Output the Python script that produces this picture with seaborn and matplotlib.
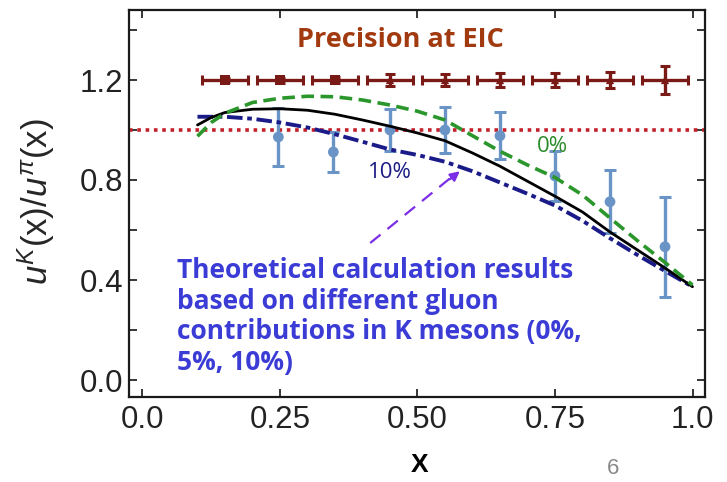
import numpy as np
import pandas as pd
import matplotlib

matplotlib.use('Agg')
import matplotlib.pyplot as plt
import seaborn as sns

# theory curves
curve_x = [0.10, 0.125, 0.15, 0.20, 0.25, 0.30, 0.35, 0.40, 0.45, 0.50,
           0.55, 0.60, 0.65, 0.70, 0.75, 0.80, 0.85, 0.90, 0.95, 1.00]
gluon_5 = [1.02, 1.05, 1.07, 1.083, 1.085, 1.079, 1.063, 1.04, 1.015, 0.988,
           0.957, 0.908, 0.855, 0.795, 0.735, 0.672, 0.592, 0.52, 0.448, 0.373]
gluon_0 = [0.975, 1.03, 1.067, 1.11, 1.127, 1.135, 1.133, 1.12, 1.10, 1.075,
           1.04, 0.977, 0.915, 0.86, 0.81, 0.74, 0.648, 0.557, 0.47, 0.38]
gluon_10 = [1.053, 1.053, 1.053, 1.045, 1.03, 1.01, 0.983, 0.953, 0.922, 0.90,
            0.873, 0.835, 0.79, 0.745, 0.698, 0.637, 0.567, 0.50, 0.436, 0.373]

# lattice / data points
data_x = [0.247, 0.347, 0.45, 0.55, 0.65, 0.75, 0.85, 0.95]
data_y = [0.972, 0.912, 1.0, 1.0, 0.977, 0.816, 0.713, 0.533]
data_err = [0.116, 0.08, 0.085, 0.092, 0.095, 0.10, 0.125, 0.20]

# projected EIC precision
eic_x = [0.15, 0.25, 0.35, 0.45, 0.55, 0.65, 0.75, 0.85, 0.95]
eic_y = [1.2] * 9
eic_xerr = [0.042] * 9
eic_yerr = [0.008, 0.010, 0.012, 0.022, 0.024, 0.026, 0.028, 0.032, 0.055]

sns.set_theme(style='ticks')
plt.rcParams['font.family'] = ['Liberation Sans', 'DejaVu Sans']
plt.rcParams['mathtext.fontset'] = 'custom'
plt.rcParams['mathtext.it'] = 'Liberation Sans:italic'
plt.rcParams['mathtext.rm'] = 'Liberation Sans'

fig = plt.figure(figsize=(7.27, 4.82), dpi=100)
ax = fig.add_axes([129 / 727, 1 - 397 / 482, 576 / 727, 387 / 482])

curves = pd.DataFrame({'x': curve_x, '0%': gluon_0, '5%': gluon_5, '10%': gluon_10})

ax.axhline(1.0, color='#c3202b', ls=(0, (1, 1.3)), lw=2.6, zorder=1)

sns.lineplot(data=curves, x='x', y='10%', ax=ax, color='#1a1a88', lw=2.8,
             ls=(0, (4, 1.2, 1.2, 1.2)), zorder=3)
sns.lineplot(data=curves, x='x', y='5%', ax=ax, color='black', lw=2.0, zorder=4)
sns.lineplot(data=curves, x='x', y='0%', ax=ax, color='#2b962b', lw=2.6,
             ls=(0, (3.5, 1.8)), zorder=5)

# data points
ax.errorbar(data_x, data_y, yerr=data_err, fmt='none', ecolor='#6a94c6',
            elinewidth=2.4, capsize=4, capthick=2.2, zorder=2)
sns.scatterplot(x=data_x, y=data_y, ax=ax, color='#6a94c6', s=60,
                edgecolor='none', zorder=2)

# EIC precision points
eic_col = '#7a1a16'
ax.errorbar(eic_x, eic_y, xerr=eic_xerr, yerr=eic_yerr, fmt='none',
            ecolor=eic_col, elinewidth=2.4, capsize=3.5, capthick=2.2, zorder=3)
sns.scatterplot(x=eic_x[:3], y=eic_y[:3], ax=ax, color=eic_col, marker='s',
                s=50, edgecolor='none', zorder=4)
sns.scatterplot(x=eic_x[3:], y=eic_y[3:], ax=ax, color=eic_col, marker='^',
                s=35, edgecolor='none', zorder=4)

ax.set_xlim(-0.0245, 1.0227)
ax.set_ylim(-0.068, 1.48)
ax.set_xticks([0.0, 0.25, 0.5, 0.75, 1.0])
ax.set_xticklabels(['0.0', '0.25', '0.50', '0.75', '1.0'])
ax.set_yticks([0.0, 0.2, 0.4, 0.6, 0.8, 1.0, 1.2, 1.4])
ax.set_yticklabels(['0.0', '', '0.4', '', '0.8', '', '1.2', ''])
ax.tick_params(direction='in', length=6, width=1.3, top=True, right=True,
               labelsize=22.5, labelcolor='#222222')
ax.tick_params(axis='y', pad=4)
ax.tick_params(axis='x', pad=6)
for s in ax.spines.values():
    s.set_linewidth(1.6)
    s.set_color('#1a1a1a')
ax.set_xlabel('')
ax.set_ylabel(r'$u^K(\mathrm{x})/u^{\pi}(\mathrm{x})$', fontsize=25)
ax.yaxis.set_label_coords(-0.125, 0.504)

txt_font = ['Open Sans', 'DejaVu Sans']
ax.text(0.468, 1.36, 'Precision at EIC', color='#a23a10', fontsize=19.5,
        fontweight='bold', family=txt_font, ha='center', va='center')
ax.text(0.45, 0.832, '10%', color='#1c1c85', fontsize=16, family=txt_font,
        ha='center', va='center')
ax.text(0.746, 0.932, '0%', color='#2b8a2b', fontsize=16, family=txt_font,
        ha='center', va='center')
ax.text(0.062, 0.49,
        'Theoretical calculation results\nbased on different gluon\n'
        'contributions in K mesons (0%,\n5%, 10%)',
        color='#3b3bd6', fontsize=19, fontweight='bold', family=txt_font,
        ha='left', va='top', linespacing=1.16)

# dashed arrow pointing at the 10% curve
arrow_col = '#7b2ee6'
ax.plot([0.414, 0.57], [0.548, 0.826], color=arrow_col, lw=1.6, ls=(0, (6, 4)))
ax.annotate('', xy=(0.581, 0.842), xytext=(0.555, 0.796),
            arrowprops=dict(arrowstyle='-|>', color=arrow_col, lw=1.6,
                            mutation_scale=14))

fig.text(420 / 727, 1 - 465 / 482, 'X', fontsize=19, fontweight='bold',
         ha='center', va='center', color='black')
fig.text(613 / 727, 1 - 469 / 482, '6', fontsize=16, color='#8a8a8a',
         ha='center', va='center')

fig.savefig('out.png', dpi=100)
